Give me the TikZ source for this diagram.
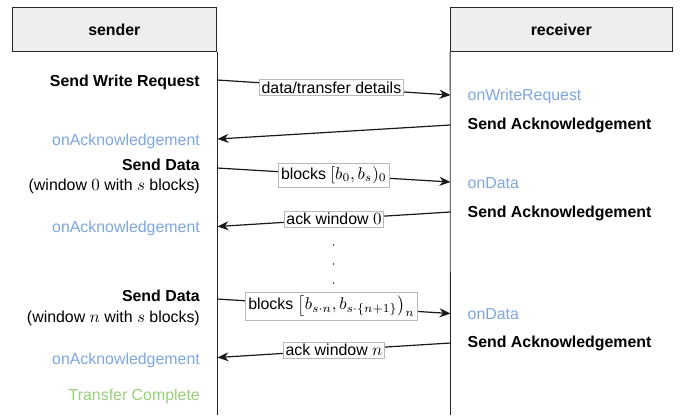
\documentclass[tikz,border=0pt]{standalone}
\usepackage{graphicx}
\usepackage{fontspec}
\setmainfont{Liberation Sans}
\usetikzlibrary{arrows.meta}
\definecolor{hdrfill}{HTML}{EEEEEE}
\definecolor{evblue}{HTML}{7EA6E0}
\definecolor{evgreen}{HTML}{97D077}
\newcommand{\mth}[1]{\scalebox{1.7}{\fontsize{10}{12}\selectfont$#1$}}
\begin{document}
\begin{tikzpicture}[x=1pt,y=-1pt,
  font=\fontsize{15.9}{19}\selectfont,
  header/.style={draw=black!85, fill=hdrfill, line width=0.8pt, inner sep=0pt,
    minimum width=204.5pt, minimum height=44.4pt, font=\fontsize{15.9}{19}\selectfont\bfseries},
  lifeline/.style={draw=black!85, line width=0.8pt},
  lefttxt/.style={anchor=base east, inner sep=0pt},
  righttxt/.style={anchor=base west, inner sep=0pt},
  action/.style={font=\fontsize{15.9}{19}\selectfont\bfseries},
  event/.style={text=evblue},
  done/.style={text=evgreen},
  msg/.style={draw=black!90, line width=1.2pt, -{Stealth[length=11pt,width=9pt,inset=3.5pt]}},
  lbl/.style={draw=black!28, fill=white, inner sep=2pt, line width=0.6pt, text=black},
  mathlbl/.style={lbl, inner xsep=2.5pt, inner ysep=3.5pt},
  dotnode/.style={circle, fill=black!80, inner sep=0pt, minimum size=1.6pt}
]
\useasboundingbox (0,0) rectangle (682,415);

% headers
\node[header] (sender) at (114.35,29.5) {sender};
\node[header, minimum width=221.5pt] (receiver) at (561.25,29.5) {receiver};

% lifelines
\coordinate (sbot) at (217,415);
\coordinate (rbot) at (450.5,415);
\draw[lifeline] (sender.south east) -- (sbot);
\draw[lifeline] (receiver.south west) -- (rbot);

% left texts
\node[lefttxt, action] (swr) at (200,86) {Send Write Request};
\node[lefttxt, event] (oa1) at (200,145) {onAcknowledgement};
\node[lefttxt, action] (sd1) at (200,170.5) {Send Data};
\node[lefttxt] (w0) at (200,190.8) {(window \mth{0} with \mth{s} blocks)};
\node[lefttxt, event] (oa2) at (200,232.4) {onAcknowledgement};
\node[lefttxt, action] (sd2) at (200,301.7) {Send Data};
\node[lefttxt] (wn) at (200,322.8) {(window \mth{n} with \mth{s} blocks)};
\node[lefttxt, event] (oa3) at (200,364) {onAcknowledgement};
\node[lefttxt, done] (tc) at (200,400) {Transfer Complete};

% right texts
\node[righttxt, event] (owr) at (467.5,100.7) {onWriteRequest};
\node[righttxt, action] (sa1) at (467.5,129.5) {Send Acknowledgement};
\node[righttxt, event] (od1) at (467.5,188.4) {onData};
\node[righttxt, action] (sa2) at (467.5,217.4) {Send Acknowledgement};
\node[righttxt, event] (od2) at (467.5,319) {onData};
\node[righttxt, action] (sa3) at (467.5,347.4) {Send Acknowledgement};

% message end points on lifelines
\coordinate (m1a) at (217,80);    \coordinate (m1b) at (450.5,95);
\coordinate (m2a) at (450.5,125); \coordinate (m2b) at (217.5,139);
\coordinate (m3a) at (217,168);   \coordinate (m3b) at (450.5,182);
\coordinate (m4a) at (450.5,212); \coordinate (m4b) at (217.5,226.5);
\coordinate (m5a) at (217,299);   \coordinate (m5b) at (450.5,313.5);
\coordinate (m6a) at (450.5,343); \coordinate (m6b) at (217.5,357.5);

\draw[msg] (m1a) -- node[lbl, pos=0.49] (l1) {data/transfer details} (m1b);
\draw[msg] (m2a) -- (m2b);
\draw[msg] (m3a) -- node[mathlbl] (l3) {blocks \mth{[b_0, b_s)_0}} (m3b);
\draw[msg] (m4a) -- node[lbl] (l4) {ack window \mth{0}} (m4b);
\draw[msg] (m5a) -- node[mathlbl, pos=0.49] (l5) {blocks \mth{\left[b_{s\cdot n}, b_{s\cdot\{n+1\}}\right)_n}} (m5b);
\draw[msg] (m6a) -- node[lbl] (l6) {ack window \mth{n}} (m6b);

% continuation dots
\node[dotnode] (d1) at (333.5,245) {};
\node[dotnode] (d2) at (333.5,264) {};
\node[dotnode] (d3) at (333.5,283) {};
\end{tikzpicture}
\end{document}
